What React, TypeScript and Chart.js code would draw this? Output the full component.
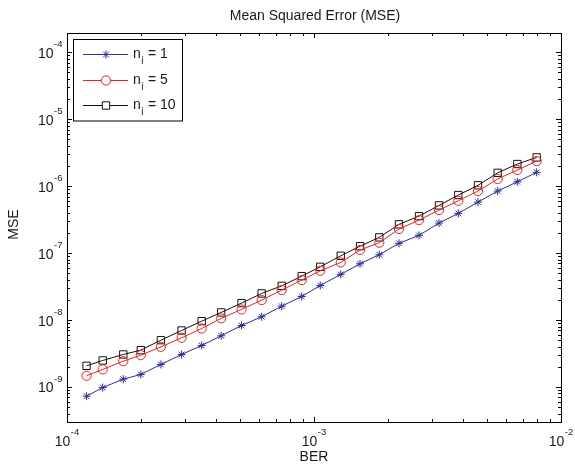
import React, { useEffect, useRef } from 'react';
import { Chart, registerables } from 'chart.js';

Chart.register(...registerables);

const chartTitle = 'Mean Squared Error (MSE)';
const xAxisTitle = 'BER';
const yAxisTitle = 'MSE';

const berValues = [
  1.2e-4, 1.395e-4, 1.69e-4, 1.99e-4, 2.4e-4, 2.91e-4, 3.51e-4, 4.21e-4,
  5.09e-4, 6.14e-4, 7.4e-4, 8.92e-4, 1.06e-3, 1.283e-3, 1.536e-3, 1.838e-3,
  2.209e-3, 2.662e-3, 3.207e-3, 3.839e-3, 4.613e-3, 5.541e-3, 6.656e-3, 7.97e-3,
];

const mseN1 = [
  7.29e-10, 9.8e-10, 1.31e-9, 1.54e-9, 2.17e-9, 3.06e-9, 4.17e-9, 5.81e-9,
  8.3e-9, 1.12e-8, 1.61e-8, 2.25e-8, 3.28e-8, 4.81e-8, 6.93e-8, 9.45e-8,
  1.4e-7, 1.84e-7, 2.81e-7, 3.92e-7, 5.78e-7, 8.45e-7, 1.16e-6, 1.61e-6,
];

const mseN5 = [
  1.47e-9, 1.83e-9, 2.43e-9, 2.99e-9, 3.98e-9, 5.42e-9, 7.48e-9, 1.06e-8,
  1.44e-8, 1.99e-8, 2.8e-8, 3.95e-8, 5.44e-8, 7.26e-8, 1.11e-7, 1.43e-7,
  2.29e-7, 3.11e-7, 4.39e-7, 6.05e-7, 8.45e-7, 1.28e-6, 1.74e-6, 2.37e-6,
];

const mseN10 = [
  2.07e-9, 2.49e-9, 3.06e-9, 3.55e-9, 5.01e-9, 6.98e-9, 9.63e-9, 1.3e-8,
  1.79e-8, 2.5e-8, 3.24e-8, 4.53e-8, 6.24e-8, 9.12e-8, 1.27e-7, 1.72e-7,
  2.69e-7, 3.57e-7, 5.16e-7, 7.36e-7, 1.03e-6, 1.58e-6, 2.14e-6, 2.69e-6,
];

const seriesLabels = ['1', '5', '10'];
const xTickExponents = [-4, -3, -2];
const yTickExponents = [-9, -8, -7, -6, -5, -4];

const X_MIN = 1e-4;
const X_MAX = 1e-2;
const Y_MIN = 3e-10;
const Y_MAX = 1.94e-4;

const FONT = '"Liberation Sans", Arial, Helvetica, sans-serif';
const TEXT = '#1a1a1a';

const seriesStyles = [
  { color: '#2e2e9c', pointStyle: 'star', radius: 4 },
  { color: '#f02020', pointStyle: 'circle', radius: 4.6 },
  { color: '#111111', pointStyle: 'rect', radius: 5.2 },
];

function drawMarker(ctx: CanvasRenderingContext2D, style: string, r: number, x: number, y: number) {
  ctx.beginPath();
  if (style === 'circle') {
    ctx.arc(x, y, r, 0, Math.PI * 2);
  } else if (style === 'rect') {
    const s = Math.SQRT1_2 * r;
    ctx.rect(x - s, y - s, 2 * s, 2 * s);
  } else {
    ctx.moveTo(x - r, y);
    ctx.lineTo(x + r, y);
    ctx.moveTo(x, y - r);
    ctx.lineTo(x, y + r);
    const d = r * Math.SQRT1_2;
    ctx.moveTo(x - d, y - d);
    ctx.lineTo(x + d, y + d);
    ctx.moveTo(x - d, y + d);
    ctx.lineTo(x + d, y - d);
  }
  ctx.stroke();
}

function drawPow(ctx: CanvasRenderingContext2D, exp: number, x: number, baseline: number, align: 'center' | 'right') {
  const base = '10';
  const sup = String(exp);
  ctx.font = `14px ${FONT}`;
  const wb = ctx.measureText(base).width;
  ctx.font = `9.5px ${FONT}`;
  const ws = ctx.measureText(sup).width;
  const total = wb + ws + 0.5;
  const left = align === 'center' ? x - total / 2 : x - total;
  ctx.textAlign = 'left';
  ctx.textBaseline = 'alphabetic';
  ctx.font = `14px ${FONT}`;
  ctx.fillText(base, left, baseline);
  ctx.font = `9.5px ${FONT}`;
  ctx.fillText(sup, left + wb + 0.5, baseline - 10.5);
}

const matlabPlugin = {
  id: 'matlabDecor',
  afterDraw(chart: any) {
    const { ctx, chartArea } = chart;
    const xs = chart.scales.x;
    const ys = chart.scales.y;
    const L = chartArea.left, R = chartArea.right, T = chartArea.top, B = chartArea.bottom;
    ctx.save();
    ctx.strokeStyle = '#000';
    ctx.lineWidth = 1;
    ctx.strokeRect(Math.round(L) + 0.5, Math.round(T) + 0.5, Math.round(R - L), Math.round(B - T));

    ctx.beginPath();
    for (let e = -4; e <= -2; e++) {
      for (let m = 1; m <= 9; m++) {
        const v = m * Math.pow(10, e);
        if (v < X_MIN * 0.999 || v > X_MAX * 1.001) continue;
        const px = Math.round(xs.getPixelForValue(v)) + 0.5;
        const len = m === 1 ? 5 : 3;
        ctx.moveTo(px, B);
        ctx.lineTo(px, B - len);
        ctx.moveTo(px, T);
        ctx.lineTo(px, T + len);
      }
    }
    for (let e = -10; e <= -4; e++) {
      for (let m = 1; m <= 9; m++) {
        const v = m * Math.pow(10, e);
        if (v < Y_MIN * 0.999 || v > Y_MAX * 1.001) continue;
        const py = Math.round(ys.getPixelForValue(v)) + 0.5;
        const len = m === 1 ? 5 : 3;
        ctx.moveTo(L, py);
        ctx.lineTo(L + len, py);
        ctx.moveTo(R, py);
        ctx.lineTo(R - len, py);
      }
    }
    ctx.stroke();

    ctx.fillStyle = TEXT;
    for (const e of xTickExponents) {
      const px = xs.getPixelForValue(Math.pow(10, e));
      drawPow(ctx, e, px, B + 23.5, 'center');
    }
    for (const e of yTickExponents) {
      const py = ys.getPixelForValue(Math.pow(10, e));
      drawPow(ctx, e, L - 4.5, py + 5.5, 'right');
    }

    const cx = (L + R) / 2;
    ctx.textAlign = 'center';
    ctx.textBaseline = 'alphabetic';
    ctx.font = `14px ${FONT}`;
    ctx.fillText(chartTitle, cx + 1, 20);
    ctx.fillText(xAxisTitle, cx, 461);
    ctx.save();
    ctx.translate(18, (T + B) / 2 - 3);
    ctx.rotate(-Math.PI / 2);
    ctx.fillText(yAxisTitle, 0, 0);
    ctx.restore();

    const bx = 73.5, by = 39.5, bw = 109, bh = 81.5;
    ctx.fillStyle = '#fff';
    ctx.fillRect(bx, by, bw, bh);
    ctx.strokeStyle = '#000';
    ctx.strokeRect(bx, by, bw, bh);
    const rows = [54.5, 80.5, 105.5];
    chart.data.datasets.forEach((ds: any, i: number) => {
      const st = seriesStyles[i];
      const ry = rows[i];
      ctx.strokeStyle = st.color;
      ctx.lineWidth = 1;
      ctx.beginPath();
      ctx.moveTo(83, ry);
      ctx.lineTo(128, ry);
      ctx.stroke();
      ctx.fillStyle = '#fff';
      if (st.pointStyle === 'circle') {
        ctx.beginPath();
        ctx.arc(106, ry, st.radius, 0, Math.PI * 2);
        ctx.fill();
      } else if (st.pointStyle === 'rect') {
        const s = Math.SQRT1_2 * st.radius;
        ctx.fillRect(106 - s, ry - s, 2 * s, 2 * s);
      }
      drawMarker(ctx, st.pointStyle, st.radius, 106, ry);
      ctx.fillStyle = TEXT;
      ctx.textAlign = 'left';
      ctx.font = `14px ${FONT}`;
      ctx.fillText('n', 133, ry + 3.5);
      const wn = ctx.measureText('n').width;
      ctx.font = `10px ${FONT}`;
      ctx.fillText('i', 133 + wn + 0.5, ry + 9.5);
      const wi = ctx.measureText('i').width;
      ctx.font = `14px ${FONT}`;
      ctx.fillText(' = ' + seriesLabels[i], 133 + wn + wi + 1, ry + 3.5);
    });
    ctx.restore();
  },
};

export default function App() {
  const ref = useRef<HTMLCanvasElement | null>(null);
  useEffect(() => {
    if (!ref.current) return;
    const series = [mseN1, mseN5, mseN10];
    const chart = new Chart(ref.current, {
      type: 'line',
      data: {
        datasets: series.map((vals, i) => ({
          label: 'n_i = ' + seriesLabels[i],
          data: berValues.map((x, j) => ({ x, y: vals[j] })),
          borderColor: seriesStyles[i].color,
          borderWidth: 1,
          pointStyle: seriesStyles[i].pointStyle as any,
          pointRadius: seriesStyles[i].radius,
          pointBorderColor: seriesStyles[i].color,
          pointBackgroundColor: 'rgba(0,0,0,0)',
          pointBorderWidth: 1,
          tension: 0,
          fill: false,
        })),
      },
      options: {
        responsive: false,
        animation: false,
        devicePixelRatio: 1,
        layout: { padding: { left: 67, right: 14, top: 33, bottom: 44 } },
        plugins: { legend: { display: false }, title: { display: false }, tooltip: { enabled: false } },
        scales: {
          x: { type: 'logarithmic', min: X_MIN, max: X_MAX, display: false },
          y: { type: 'logarithmic', min: Y_MIN, max: Y_MAX, display: false },
        },
      },
      plugins: [matlabPlugin],
    });
    return () => chart.destroy();
  }, []);
  return (
    <div style={{ position: 'absolute', left: 0, top: 0, width: 575, height: 466, background: '#fff' }}>
      <canvas ref={ref} width={575} height={466} style={{ display: 'block', width: 575, height: 466 }} />
    </div>
  );
}
